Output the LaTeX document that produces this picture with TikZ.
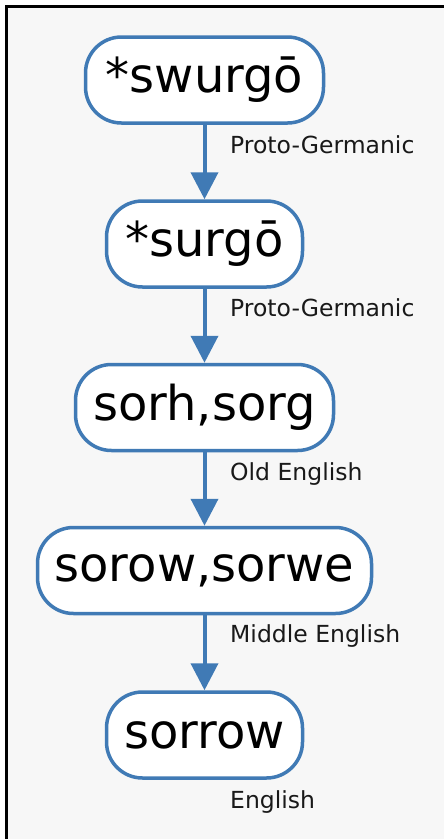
\documentclass[tikz,border=0pt]{standalone}
\usepackage{fontspec}
\setmainfont{DejaVu Sans}
\usetikzlibrary{arrows.meta}
\definecolor{edgeblue}{RGB}{64,122,181}
\definecolor{bggray}{RGB}{247,247,247}
\begin{document}
\begin{tikzpicture}[x=1pt,y=-1pt,
  word/.style={draw=edgeblue, line width=3.5pt, fill=white, rounded corners=36pt,
    minimum height=86pt, inner xsep=2pt, font=\fontsize{48}{52}\selectfont, text=black},
  lang/.style={anchor=base west, font=\fontsize{23.5}{26}\selectfont, text=black!90, inner sep=0pt},
  link/.style={draw=edgeblue, line width=4pt, -{Triangle[width=27pt,length=27pt]}}]
\useasboundingbox (0,0) rectangle (444,839);
\clip (0,0) rectangle (444,839);
\fill[white] (0,0) rectangle (444,839);
\draw[line width=2.5pt, fill=bggray] (6.5,6.5) rectangle (470,870);
\node[word, minimum width=238pt] (n1) at (204.5,80) {*swurgō};
\node[word, minimum width=196pt] (n2) at (204.5,244) {*surgō};
\node[word, minimum width=258pt] (n3) at (204.5,407.5) {sorh,sorg};
\node[word, minimum width=334pt] (n4) at (204.5,570.5) {sorow,sorwe};
\node[word, minimum width=196pt] (n5) at (204.5,735) {sorrow};
\node[lang] (l1) at (230,153) {Proto-Germanic};
\node[lang] (l2) at (230,316) {Proto-Germanic};
\node[lang] (l3) at (230,480) {Old English};
\node[lang] (l4) at (230,642) {Middle English};
\node[lang] (l5) at (230,808) {English};
\draw[link] (n1) -- (n2);
\draw[link] (n2) -- (n3);
\draw[link] (n3) -- (n4);
\draw[link] (n4) -- (n5);
\end{tikzpicture}
\end{document}
